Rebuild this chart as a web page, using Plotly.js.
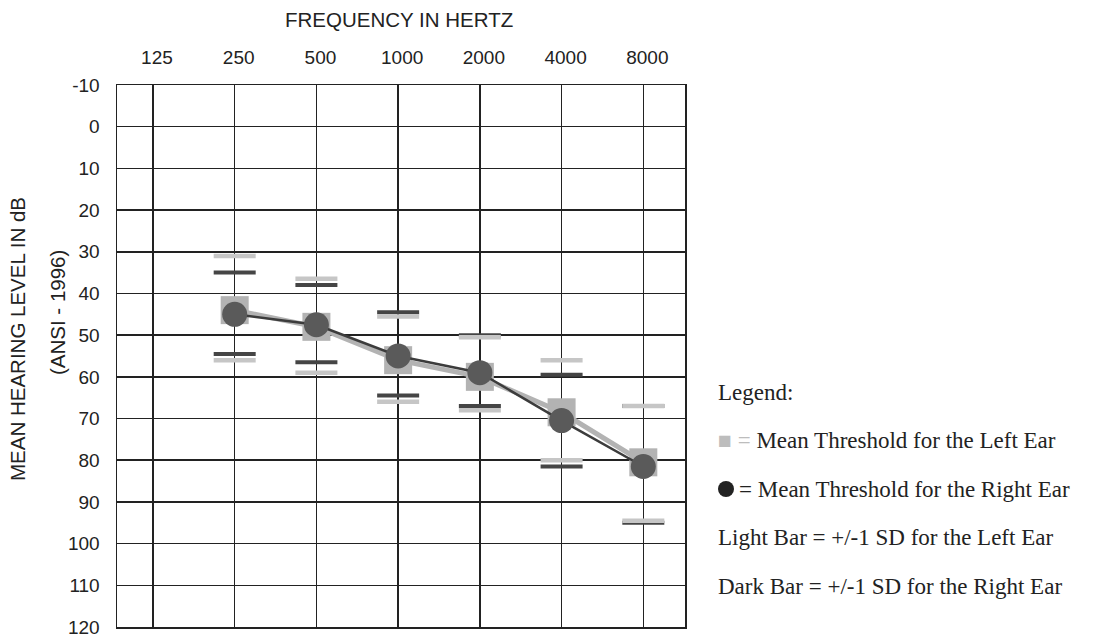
<!DOCTYPE html>
<html><head><meta charset="utf-8">
<script src="https://cdn.plot.ly/plotly-3.0.1.min.js"></script>
<style>html,body{margin:0;padding:0;background:#fff}</style>
</head><body><div id="chart" style="width:1097px;height:638px"></div>
<script>
// ---- data ----
const frequencies = ['125','250','500','1000','2000','4000','8000'];
const measuredFreqs = ['250','500','1000','2000','4000','8000'];
const leftMean  = [44, 48, 56, 60, 68.5, 80.5];
const rightMean = [45, 47.5, 55, 59, 70.5, 81.5];
const leftSDUpper  = [31, 36.5, 45.5, 50.5, 56, 67];
const leftSDLower  = [56, 59, 66, 68, 80, 94.5];
const rightSDUpper = [35, 38, 44.5, 50, 59.5, 67];
const rightSDLower = [54.5, 56.5, 64.5, 67, 81.5, 95];
const yTicks = [-10,0,10,20,30,40,50,60,70,80,90,100,110,120];
const legendLines = [
  'Legend:',
  '<span style="color:#bdbdbd">■ =</span> Mean Threshold for the Left Ear',
  '= Mean Threshold for the Right Ear',
  'Light Bar = +/-1 SD for the Left Ear',
  'Dark Bar = +/-1 SD for the Right Ear'
];

// ---- layout geometry ----
const W = 1097, H = 638;
const L = 117, R = 685, T = 85, B = 627;
const px = x => (x - L) / (R - L);
const py = y => (B - y) / (B - T);

const lightBar = '#c6c6c6', darkBar = '#454545';
function barTrace(vals, color, width) {
  return {x: measuredFreqs, y: vals, type: 'scatter', mode: 'markers', hoverinfo: 'skip',
    marker: {symbol: 'line-ew', size: 30, color: color, line: {color: color, width: width}}};
}

const traces = [
  barTrace(rightSDUpper, darkBar, 4),
  barTrace(rightSDLower, darkBar, 4),
  barTrace(leftSDUpper, lightBar, 4.5),
  barTrace(leftSDLower, lightBar, 4.5),
  {x: measuredFreqs, y: leftMean, type: 'scatter', mode: 'lines+markers',
   line: {color: '#b3b3b3', width: 5},
   marker: {symbol: 'square', size: 28, color: '#b3b3b3'}},
  {x: measuredFreqs, y: rightMean, type: 'scatter', mode: 'lines+markers',
   line: {color: '#3c3c3c', width: 2.5},
   marker: {symbol: 'circle', size: 25, color: '#5a5a5a'}}
];

const font = {family: 'Liberation Sans, Arial, sans-serif', size: 19, color: '#222'};
const titleFont = {family: 'Liberation Sans, Arial, sans-serif', size: 20.5, color: '#222'};
const serif = {family: 'Liberation Serif, Times New Roman, serif', size: 23, color: '#222'};

const legendY = [392, 440, 489, 537, 586];
const legendX = [716, 716, 737, 716, 716];
const annotations = [
  {text: 'FREQUENCY IN HERTZ', x: px(399), y: py(20), xref: 'paper', yref: 'paper', showarrow: false, font: titleFont, xanchor: 'center', yanchor: 'middle'},
  {text: 'MEAN HEARING LEVEL IN dB', x: px(17), y: py(339), xref: 'paper', yref: 'paper', showarrow: false, font: titleFont, textangle: -90, xanchor: 'center', yanchor: 'middle'},
  {text: '(ANSI - 1996)', x: px(57), y: py(313), xref: 'paper', yref: 'paper', showarrow: false, font: titleFont, textangle: -90, xanchor: 'center', yanchor: 'middle'}
];
legendLines.forEach((t, i) => annotations.push({
  text: t, x: px(legendX[i]), y: py(legendY[i]), xref: 'paper', yref: 'paper', showarrow: false,
  font: serif, xanchor: 'left', yanchor: 'middle', align: 'left'
}));

const shapes = [
  {type: 'circle', xref: 'paper', yref: 'paper', x0: px(718), x1: px(734), y0: py(497), y1: py(481),
   fillcolor: '#222', line: {width: 0}}
];

const layout = {
  width: W, height: H,
  margin: {l: L, r: W - R, t: T, b: H - B, pad: 0},
  paper_bgcolor: '#fff', plot_bgcolor: '#fff',
  showlegend: false,
  font: font,
  xaxis: {type: 'category', categoryorder: 'array', categoryarray: frequencies,
    tickvals: frequencies, ticktext: frequencies,
    range: [-0.44, 6.51], side: 'top', showgrid: true, gridcolor: '#222', gridwidth: 1.5,
    showline: true, linecolor: '#222', linewidth: 1.5, mirror: true, ticks: '',
    ticklabelstandoff: 12, ticklabelshift: 4, tickfont: font, zeroline: false, fixedrange: true},
  yaxis: {range: [120, -10], tickvals: yTicks, ticktext: yTicks.map(String),
    showgrid: true, gridcolor: '#222', gridwidth: 1.5,
    showline: true, linecolor: '#222', linewidth: 1.5, mirror: true, ticks: '',
    ticklabelstandoff: 12, tickfont: font, zeroline: false, fixedrange: true},
  annotations: annotations,
  shapes: shapes
};

Plotly.newPlot('chart', traces, layout, {displayModeBar: false, staticPlot: true});
</script>
</body></html>
